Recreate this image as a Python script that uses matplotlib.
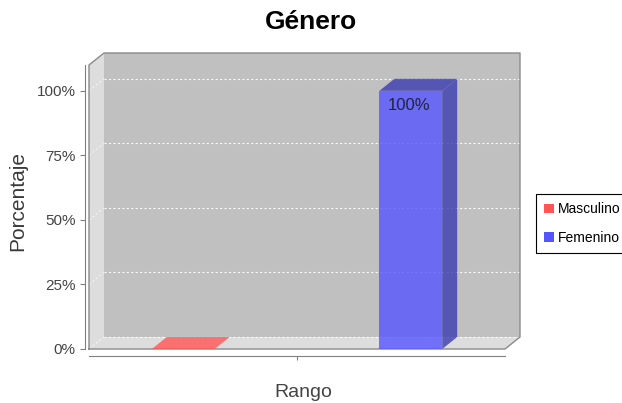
import numpy as np
import matplotlib
matplotlib.use('Agg')
import matplotlib.pyplot as plt
from matplotlib.patches import Polygon, Patch
from matplotlib.ticker import FuncFormatter

# ---- data ----
series = ['Masculino', 'Femenino']
values = [0, 100]
colors = ['#FF5555', '#5555FF']
side_colors = ['#B23B3B', '#3B3BB2']
y_ticks = [0, 25, 50, 75, 100]
bar_labels = ['', '100%']

plt.rcParams['font.family'] = ['Liberation Sans', 'DejaVu Sans']

W, H = 622, 403
fig = plt.figure(figsize=(W / 100, H / 100), dpi=100)

# front face of the plot area (pixels): x 89..505, y 65..349
ax = fig.add_axes([89 / W, 1 - 349 / H, 416 / W, 284 / H])
ax.set_xlim(0, 1)
ax.set_ylim(0, 110)
ax.patch.set_visible(False)

# depth of the 3d effect, in data units
DX = 15 / 416
DY = 12 / 284 * 110
YT = 110

wall = '#DDDDDD'
edge = '#8A8A8A'

# back wall, left wall, floor
ax.add_patch(Polygon([(DX, DY), (1 + DX, DY), (1 + DX, YT + DY), (DX, YT + DY)],
                     closed=True, fc='#C0C0C0', ec='none', clip_on=False, zorder=1))
ax.add_patch(Polygon([(0, 0), (DX, DY), (DX, YT + DY), (0, YT)],
                     closed=True, fc=wall, ec='none', clip_on=False, zorder=1))
ax.add_patch(Polygon([(0, 0), (1, 0), (1 + DX, DY), (DX, DY)],
                     closed=True, fc=wall, ec='none', clip_on=False, zorder=1))

# gridlines
for v in y_ticks:
    ax.plot([DX, 1 + DX], [v + DY, v + DY], color='white', lw=0.8,
            ls=(0, (2, 2)), clip_on=False, zorder=2, alpha=0.9)
    ax.plot([0, DX], [v, v + DY], color='white', lw=0.8,
            ls=(0, (2, 2)), clip_on=False, zorder=2, alpha=0.6)

# outline
ax.plot([0, 0, DX, 1 + DX, 1 + DX, 1, 0], [0, YT, YT + DY, YT + DY, DY, 0, 0],
        color=edge, lw=1.0, clip_on=False, zorder=3)

# bars
centers = 0.5 + np.array([-0.2735, 0.2735])
bw = 0.151
for c, v, col, scol, lab in zip(centers, values, colors, side_colors, bar_labels):
    x0, x1 = c - bw / 2, c + bw / 2
    if v > 0:
        ax.add_patch(Polygon([(x0, 0), (x1, 0), (x1, v), (x0, v)], closed=True,
                             fc=col, ec='none', alpha=0.8, clip_on=False, zorder=4))
        ax.add_patch(Polygon([(x1, 0), (x1 + DX, DY), (x1 + DX, v + DY), (x1, v)],
                             closed=True, fc=scol, ec='none', alpha=0.8,
                             clip_on=False, zorder=4))
        top = scol
    else:
        top = col
    ax.add_patch(Polygon([(x0, v), (x1, v), (x1 + DX, v + DY), (x0 + DX, v + DY)],
                         closed=True, fc=top, ec='none', alpha=0.8,
                         clip_on=False, zorder=4))
    if lab:
        ax.annotate(lab, (c, v), xytext=(-1, -10.5), textcoords='offset points',
                    ha='center', va='center', fontsize=12, color='#222244', zorder=5)

# axes
for s in ['top', 'right']:
    ax.spines[s].set_visible(False)
ax.spines['left'].set_position(('outward', 3))
ax.spines['bottom'].set_position(('outward', 5))
ax.spines['left'].set_color('#808080')
ax.spines['bottom'].set_color('#808080')
ax.set_yticks(y_ticks)
ax.yaxis.set_major_formatter(FuncFormatter(lambda x, pos: f'{x:.0f}%'))
ax.tick_params(axis='y', direction='out', length=3.5, width=0.8, color='#808080',
               labelsize=11, labelcolor='#444444', pad=3)
ax.set_xticks([0.5])
ax.set_xticklabels([''])
ax.tick_params(axis='x', direction='out', length=3, width=0.8, color='#808080')

fig.text(310.5 / W, 1 - 22 / H, 'Género', ha='center', va='center',
         fontsize=19, fontweight='bold', color='black')
fig.text(18 / W, 1 - 201 / H, 'Porcentaje', rotation=90, ha='center', va='center',
         fontsize=15, color='#3a3a3a')
fig.text(303 / W, 1 - 397 / H, 'Rango', ha='center', va='baseline',
         fontsize=14, color='#444444')

handles = [Patch(fc=c, ec='none', label=s) for s, c in zip(series, colors)]
leg = fig.legend(handles=handles, loc='upper left',
                 bbox_to_anchor=(536 / W, 1 - 194 / H), bbox_transform=fig.transFigure,
                 fancybox=False, edgecolor='black', framealpha=1, fontsize=10,
                 handlelength=0.7, handleheight=0.7, handletextpad=0.3,
                 borderpad=0.6, labelspacing=1.05, borderaxespad=0)
leg.get_frame().set_linewidth(0.8)

fig.savefig('out.png', dpi=100)
